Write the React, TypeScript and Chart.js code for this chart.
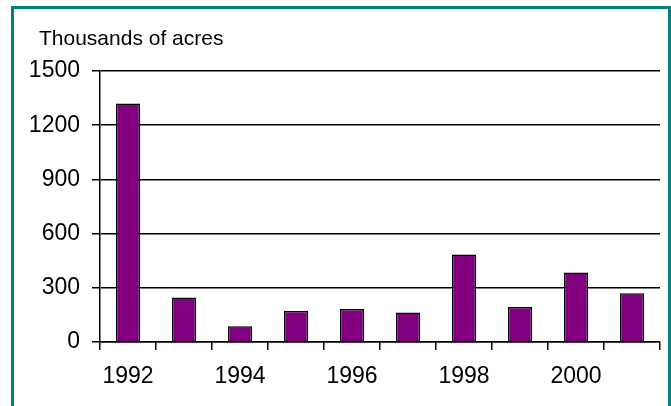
import React, { useEffect, useRef } from "react";
import { Chart, registerables } from "chart.js";

Chart.register(...registerables);

const years = ["1992", "1993", "1994", "1995", "1996", "1997", "1998", "1999", "2000", "2001"];
const acres = [1320, 247, 87, 172, 183, 163, 484, 194, 384, 270];
const yTicks = [0, 300, 600, 900, 1200, 1500];
const unitLabel = "Thousands of acres";

const FONT = 'Arial, "Liberation Sans", sans-serif';

const unitLabelPlugin = {
  id: "unitLabel",
  afterDraw(chart: any) {
    const ctx = chart.ctx;
    ctx.save();
    ctx.font = `21px ${FONT}`;
    ctx.fillStyle = "#000";
    ctx.textAlign = "left";
    ctx.textBaseline = "alphabetic";
    ctx.fillText(unitLabel, 39, 45);
    ctx.restore();
  },
};

export default function App() {
  const canvasRef = useRef<HTMLCanvasElement | null>(null);

  useEffect(() => {
    if (!canvasRef.current) return;
    const chart = new Chart(canvasRef.current, {
      type: "bar",
      data: {
        labels: years,
        datasets: [
          {
            data: acres,
            backgroundColor: "#800080",
            borderColor: "#000",
            borderWidth: 1.5,
            barPercentage: 0.43,
            categoryPercentage: 1,
          },
        ],
      },
      plugins: [unitLabelPlugin],
      options: {
        responsive: false,
        animation: false,
        devicePixelRatio: 1,
        layout: { padding: { left: 0, top: 71, right: 11, bottom: 0 } },
        plugins: {
          legend: { display: false },
          tooltip: { enabled: false },
          title: { display: false },
        },
        scales: {
          x: {
            grid: {
              offset: true,
              drawOnChartArea: false,
              drawTicks: true,
              tickLength: 8,
              color: "#000",
              lineWidth: 1.5,
            },
            border: { display: true, color: "#000", width: 1.5 },
            ticks: {
              autoSkip: false,
              maxRotation: 0,
              padding: 13,
              color: "#000",
              font: { family: FONT, size: 23 },
              callback: (_v: any, i: number) => (i % 2 === 0 ? years[i] : ""),
            },
            afterFit: (scale: any) => {
              scale.height = 64;
            },
          },
          y: {
            min: 0,
            max: 1500,
            afterBuildTicks: (scale: any) => {
              scale.ticks = yTicks.map((v) => ({ value: v }));
            },
            grid: {
              color: "#000",
              lineWidth: 1.5,
              drawTicks: true,
              tickLength: 8,
            },
            border: { display: true, color: "#000", width: 1.5 },
            ticks: {
              padding: 12,
              color: "#000",
              font: { family: FONT, size: 23 },
              callback: (v: any) => String(v),
            },
            afterFit: (scale: any) => {
              scale.width = 100;
            },
          },
        },
      },
    });
    return () => chart.destroy();
  }, []);

  return (
    <div style={{ position: "absolute", left: 0, top: 0, width: 671, height: 406, overflow: "hidden", background: "#fff" }}>
      <canvas ref={canvasRef} width={671} height={406} style={{ position: "absolute", left: 0, top: 0, width: 671, height: 406 }} />
      <div
        style={{
          position: "absolute",
          left: 11,
          top: 6,
          width: 660,
          height: 420,
          border: "3px solid #008080",
          boxSizing: "border-box",
          pointerEvents: "none",
        }}
      />
    </div>
  );
}
